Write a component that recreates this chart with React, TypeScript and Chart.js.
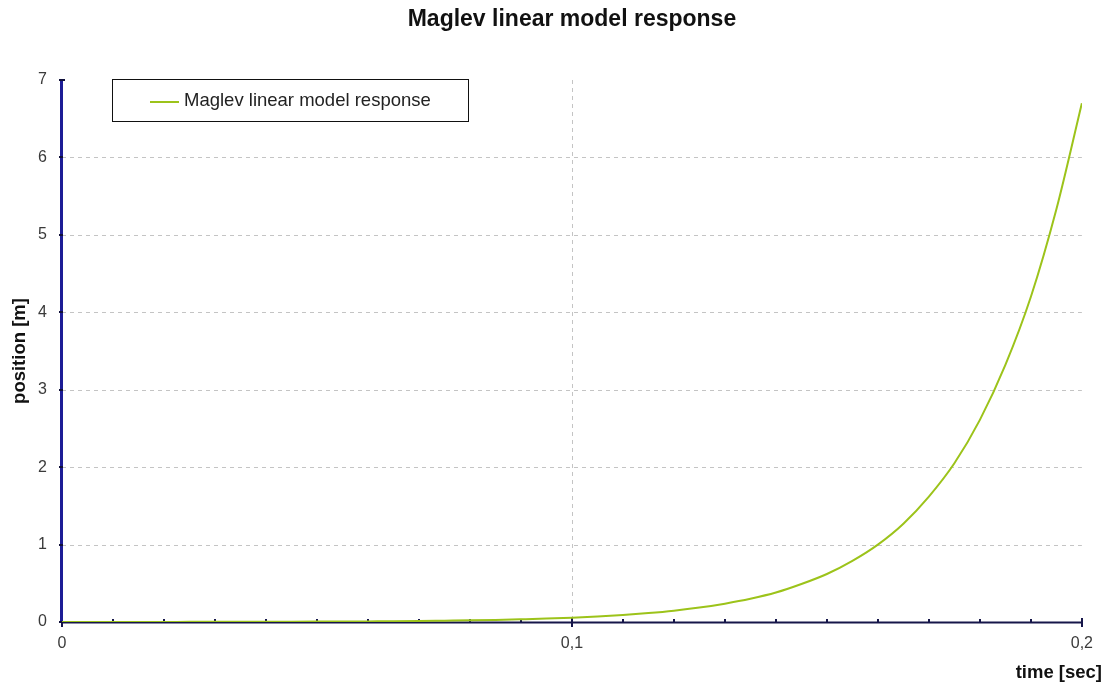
import React, { useEffect, useRef } from "react";
import { Chart, registerables } from "chart.js";

Chart.register(...registerables);

const CHART_TITLE = "Maglev linear model response";
const SERIES_LABEL = "Maglev linear model response";
const X_TITLE = "time [sec]";
const Y_TITLE = "position [m]";

const timeValues = [
  0, 0.005, 0.01, 0.015, 0.02, 0.025, 0.03, 0.035, 0.04, 0.045, 0.05, 0.055, 0.06, 0.065,
  0.07, 0.075, 0.08, 0.085, 0.09, 0.095, 0.1, 0.105, 0.11, 0.115, 0.12, 0.125, 0.13, 0.135,
  0.14, 0.145, 0.15, 0.155, 0.16, 0.165, 0.17, 0.175, 0.18, 0.185, 0.19, 0.195, 0.2,
];
const positionValues = [
  0.001, 0.001, 0.001, 0.001, 0.001, 0.002, 0.002, 0.003, 0.003, 0.004, 0.005, 0.006, 0.008, 0.01,
  0.013, 0.017, 0.021, 0.027, 0.035, 0.044, 0.056, 0.071, 0.09, 0.115, 0.146, 0.186, 0.237, 0.3,
  0.38, 0.49, 0.62, 0.79, 1.0, 1.27, 1.62, 2.05, 2.61, 3.32, 4.2, 5.33, 6.7,
];

const xTickLabels = ["0", "0,1", "0,2"];
const xMinorTicks = [0.01, 0.02, 0.03, 0.04, 0.05, 0.06, 0.07, 0.08, 0.09, 0.11, 0.12, 0.13, 0.14, 0.15, 0.16, 0.17, 0.18, 0.19];
const xMajorTicks = [0, 0.1, 0.2];
const xGridValues = [0.1];
const yGridValues = [1, 2, 3, 4, 5, 6];
const yTickValues = [0, 1, 2, 3, 4, 5, 6, 7];

const FONT = "'Liberation Sans', Arial, sans-serif";
const LINE_COLOR = "#9cc31a";

const decorPlugin = {
  id: "decor",
  beforeDatasetsDraw(chart: any) {
    const { ctx, chartArea, scales } = chart;
    const xs = scales.x;
    const ys = scales.y;
    ctx.save();
    ctx.strokeStyle = "#c4c4c4";
    ctx.lineWidth = 1;
    ctx.setLineDash([4, 4]);
    yGridValues.forEach((v) => {
      const y = Math.round(ys.getPixelForValue(v)) + 0.5;
      ctx.beginPath();
      ctx.moveTo(chartArea.left, y);
      ctx.lineTo(chartArea.right, y);
      ctx.stroke();
    });
    xGridValues.forEach((v) => {
      const x = Math.round(xs.getPixelForValue(v)) + 0.5;
      ctx.beginPath();
      ctx.moveTo(x, chartArea.top);
      ctx.lineTo(x, chartArea.bottom);
      ctx.stroke();
    });
    ctx.setLineDash([]);
    ctx.strokeStyle = "#16164a";
    ctx.lineWidth = 2;
    ctx.beginPath();
    ctx.moveTo(chartArea.left, chartArea.bottom + 0.5);
    ctx.lineTo(chartArea.right, chartArea.bottom + 0.5);
    ctx.stroke();
    xMinorTicks.forEach((v) => {
      const x = Math.round(xs.getPixelForValue(v));
      ctx.beginPath();
      ctx.moveTo(x, chartArea.bottom - 3);
      ctx.lineTo(x, chartArea.bottom);
      ctx.stroke();
    });
    xMajorTicks.forEach((v) => {
      const x = Math.round(xs.getPixelForValue(v));
      ctx.beginPath();
      ctx.moveTo(x, chartArea.bottom - 4);
      ctx.lineTo(x, chartArea.bottom + 5);
      ctx.stroke();
    });
    ctx.strokeStyle = "#1c1c96";
    ctx.lineWidth = 3;
    ctx.beginPath();
    ctx.moveTo(chartArea.left - 0.5, chartArea.top);
    ctx.lineTo(chartArea.left - 0.5, chartArea.bottom + 1);
    ctx.stroke();
    ctx.strokeStyle = "#10103a";
    ctx.lineWidth = 2;
    yTickValues.forEach((v) => {
      const y = Math.round(ys.getPixelForValue(v));
      ctx.beginPath();
      ctx.moveTo(chartArea.left - 3, y);
      ctx.lineTo(chartArea.left + (v === 7 ? 3 : 1), y);
      ctx.stroke();
    });
    ctx.restore();
  },
  afterDraw(chart: any) {
    const { ctx, chartArea } = chart;
    ctx.save();
    ctx.fillStyle = "#111";
    ctx.font = `bold 23px ${FONT}`;
    ctx.textAlign = "center";
    ctx.textBaseline = "middle";
    ctx.fillText(CHART_TITLE, (chartArea.left + chartArea.right) / 2, 20);
    ctx.font = `bold 18.5px ${FONT}`;
    ctx.textAlign = "right";
    ctx.fillText(X_TITLE, 1102, 673);
    ctx.save();
    ctx.translate(20, 351);
    ctx.rotate(-Math.PI / 2);
    ctx.textAlign = "center";
    ctx.fillText(Y_TITLE, 0, 0);
    ctx.restore();
    ctx.fillStyle = "#ffffff";
    ctx.fillRect(112, 79, 356, 42);
    ctx.strokeStyle = "#111";
    ctx.lineWidth = 1;
    ctx.strokeRect(112.5, 79.5, 356, 42);
    ctx.strokeStyle = LINE_COLOR;
    ctx.lineWidth = 2;
    ctx.beginPath();
    ctx.moveTo(150, 102);
    ctx.lineTo(179, 102);
    ctx.stroke();
    ctx.fillStyle = "#222";
    ctx.font = `18.5px ${FONT}`;
    ctx.textAlign = "left";
    ctx.textBaseline = "middle";
    ctx.fillText(SERIES_LABEL, 184, 101);
    ctx.restore();
  },
};

export default function App() {
  const ref = useRef<HTMLCanvasElement | null>(null);
  useEffect(() => {
    document.body.style.margin = "0";
    const canvas = ref.current;
    if (!canvas) return;
    const points = timeValues.map((t, i) => ({ x: t, y: positionValues[i] }));
    const chart = new Chart(canvas, {
      type: "line",
      data: {
        datasets: [
          {
            label: SERIES_LABEL,
            data: points,
            borderColor: LINE_COLOR,
            backgroundColor: LINE_COLOR,
            borderWidth: 2,
            pointRadius: 0,
            cubicInterpolationMode: "monotone",
          },
        ],
      },
      options: {
        animation: false,
        responsive: false,
        maintainAspectRatio: false,
        layout: { padding: { top: 80, right: 23, left: 0, bottom: 0 } },
        plugins: {
          legend: { display: false },
          title: { display: false },
          tooltip: { enabled: false },
        },
        scales: {
          x: {
            type: "linear",
            min: 0,
            max: 0.2,
            grid: { display: false, drawTicks: false },
            border: { display: false },
            ticks: {
              stepSize: 0.1,
              autoSkip: false,
              maxRotation: 0,
              padding: 12,
              color: "#3a3a3a",
              font: { family: FONT, size: 16 },
              callback: (_v: any, i: number) => xTickLabels[i] ?? "",
            },
            afterFit: (s: any) => {
              s.height = 66;
            },
          },
          y: {
            type: "linear",
            min: 0,
            max: 7,
            grid: { display: false, drawTicks: false },
            border: { display: false },
            ticks: {
              stepSize: 1,
              padding: 15,
              color: "#3a3a3a",
              font: { family: FONT, size: 16 },
            },
            afterFit: (s: any) => {
              s.width = 62;
            },
          },
        },
      },
      plugins: [decorPlugin],
    });
    return () => chart.destroy();
  }, []);
  return (
    <div style={{ position: "absolute", left: 0, top: 0, width: 1105, height: 688, background: "#fff" }}>
      <canvas ref={ref} width={1105} height={688} style={{ width: 1105, height: 688, display: "block" }} />
    </div>
  );
}
